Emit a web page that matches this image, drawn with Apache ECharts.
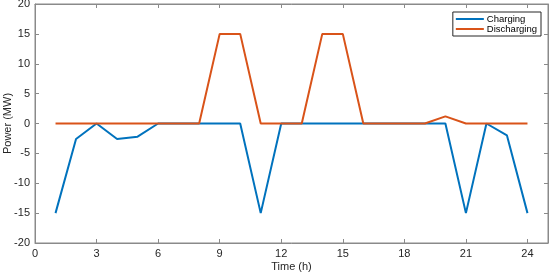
<!DOCTYPE html>
<html>
<head>
<meta charset="utf-8">
<script src="https://cdn.jsdelivr.net/npm/echarts@6/dist/echarts.min.js"></script>
<style>
html, body { margin: 0; padding: 0; background: #fff; }
#chart { width: 550px; height: 274px; }
</style>
</head>
<body>
<div id="chart"></div>
<script>
// hours 1..24
var hours = [1, 2, 3, 4, 5, 6, 7, 8, 9, 10, 11, 12, 13, 14, 15, 16, 17, 18, 19, 20, 21, 22, 23, 24];
var charging = [-15, -2.6, 0, -2.6, -2.2, 0, 0, 0, 0, 0, -15, 0, 0, 0, 0, 0, 0, 0, 0, 0, -15, 0, -2, -15];
var discharging = [0, 0, 0, 0, 0, 0, 0, 0, 15, 15, 0, 0, 0, 15, 15, 0, 0, 0, 0, 1.2, 0, 0, 0, 0];

function pairs(vals) {
	return hours.map(function(h, i) {
		return [h, vals[i]];
	});
}

var axisColor = '#262626';
var lineGray = '#8a8a8a';
var font = 'Liberation Sans, Arial, sans-serif';

var chart = echarts.init(document.getElementById('chart'));
chart.setOption({
	animation : false,
	color : [ '#0072BD', '#D95319' ],
	grid : {
		left : 35,
		right : 2,
		top : 4,
		bottom : 31,
		outerBoundsMode : 'none',
		containLabel : false,
		show : true,
		borderColor : lineGray,
		borderWidth : 1,
		backgroundColor : '#fff'
	},
	legend : {
		orient : 'vertical',
		right : 9,
		top : 12,
		itemGap : 0,
		icon : 'rect',
		itemWidth : 28,
		itemHeight : 2,
		padding : [ 2, 4, 2, 3 ],
		borderColor : axisColor,
		borderWidth : 1,
		backgroundColor : '#fff',
		textStyle : {
			fontFamily : font,
			fontSize : 9.5,
			lineHeight : 10,
			color : '#000',
			padding : [ 0, 0, 0, -2 ]
		},
		data : [ 'Charging', 'Discharging' ]
	},
	xAxis : [ {
		type : 'value',
		min : 0,
		max : 25,
		interval : 3,
		name : 'Time (h)',
		nameLocation : 'middle',
		nameGap : 18,
		nameMoveOverlap : false,
		nameTextStyle : { fontFamily : font, fontSize : 11, color : axisColor },
		axisLine : { onZero : false, lineStyle : { color : lineGray } },
		axisTick : { inside : true, length : 4, lineStyle : { color : lineGray } },
		axisLabel : { fontFamily : font, fontSize : 11, color : axisColor, margin : 5, showMaxLabel : false },
		splitLine : { show : false }
	}, {
		type : 'value',
		position : 'top',
		min : 0,
		max : 25,
		interval : 3,
		axisLine : { onZero : false, lineStyle : { color : lineGray } },
		axisTick : { inside : true, length : 4, lineStyle : { color : lineGray } },
		axisLabel : { show : false },
		splitLine : { show : false }
	} ],
	yAxis : [ {
		type : 'value',
		min : -20,
		max : 20,
		interval : 5,
		name : 'Power (MW)',
		nameLocation : 'middle',
		nameGap : 22,
		nameMoveOverlap : false,
		nameTextStyle : { fontFamily : font, fontSize : 11, color : axisColor },
		axisLine : { show : true, onZero : false, lineStyle : { color : lineGray } },
		axisTick : { show : true, inside : true, length : 4, lineStyle : { color : lineGray } },
		axisLabel : { fontFamily : font, fontSize : 11, color : axisColor, margin : 5 },
		splitLine : { show : false }
	}, {
		type : 'value',
		position : 'right',
		min : -20,
		max : 20,
		interval : 5,
		axisLine : { show : true, onZero : false, lineStyle : { color : lineGray } },
		axisTick : { show : true, inside : true, length : 4, lineStyle : { color : lineGray } },
		axisLabel : { show : false },
		splitLine : { show : false }
	} ],
	series : [ {
		name : 'Charging',
		type : 'line',
		symbol : 'none',
		lineStyle : { width : 2 },
		data : pairs(charging)
	}, {
		name : 'Discharging',
		type : 'line',
		symbol : 'none',
		lineStyle : { width : 2 },
		data : pairs(discharging)
	} ]
});
</script>
</body>
</html>
